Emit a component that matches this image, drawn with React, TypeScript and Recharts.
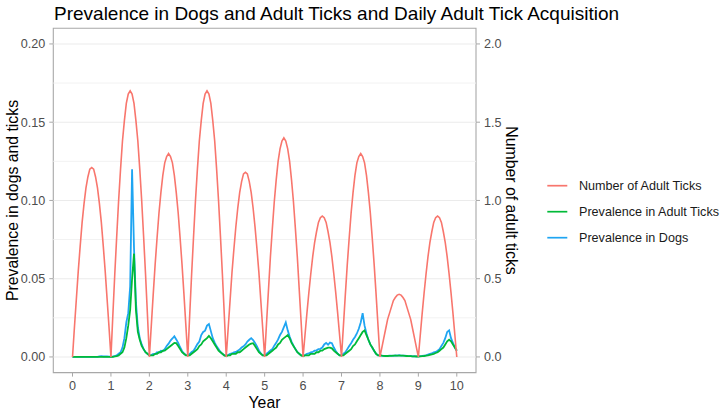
import React from 'react';
import { LineChart, Line, XAxis, YAxis, ReferenceLine, ReferenceArea } from 'recharts';

const FONT = '"Liberation Sans", Arial, Helvetica, sans-serif';

const yearTicks = [0, 1, 2, 3, 4, 5, 6, 7, 8, 9, 10];
const prevalenceAxisTicks = [0, 0.05, 0.1, 0.15, 0.2];
const prevalenceMinor = [0.025, 0.075, 0.125, 0.175];
const adultTickAxisTicks = [0, 0.5, 1, 1.5, 2];

// Number of adult ticks (right axis), read every 0.05 year
const numberAdultTicks = [
  0, 0.19, 0.37, 0.55, 0.71, 0.86, 0.98, 1.08, 1.15, 1.2, 1.21, 1.2, 1.15, 1.08, 0.98, 0.86, 0.71, 0.55, 0.37, 0.19,
  0, 0.27, 0.53, 0.77, 1.0, 1.2, 1.38, 1.51, 1.62, 1.68, 1.7, 1.68, 1.62, 1.51, 1.38, 1.2, 1.0, 0.77, 0.53, 0.27,
  0, 0.2, 0.4, 0.59, 0.76, 0.92, 1.05, 1.16, 1.24, 1.28, 1.3, 1.28, 1.24, 1.16, 1.05, 0.92, 0.76, 0.59, 0.4, 0.2,
  0, 0.27, 0.53, 0.77, 1.0, 1.2, 1.38, 1.51, 1.62, 1.68, 1.7, 1.68, 1.62, 1.51, 1.38, 1.2, 1.0, 0.77, 0.53, 0.27,
  0, 0.18, 0.36, 0.54, 0.69, 0.83, 0.95, 1.05, 1.12, 1.17, 1.18, 1.17, 1.12, 1.05, 0.95, 0.83, 0.69, 0.54, 0.36, 0.18,
  0, 0.22, 0.43, 0.64, 0.82, 0.99, 1.13, 1.25, 1.33, 1.38, 1.4, 1.38, 1.33, 1.25, 1.13, 0.99, 0.82, 0.64, 0.43, 0.22,
  0, 0.14, 0.28, 0.41, 0.53, 0.64, 0.73, 0.8, 0.86, 0.89, 0.9, 0.89, 0.86, 0.8, 0.73, 0.64, 0.53, 0.41, 0.28, 0.14,
  0, 0.2, 0.4, 0.59, 0.76, 0.92, 1.05, 1.16, 1.24, 1.28, 1.3, 1.28, 1.24, 1.16, 1.05, 0.92, 0.76, 0.59, 0.4, 0.2,
  0, 0.06, 0.12, 0.18, 0.24, 0.28, 0.32, 0.36, 0.38, 0.395, 0.4, 0.395, 0.38, 0.36, 0.32, 0.28, 0.24, 0.18, 0.12, 0.06,
  0, 0.14, 0.28, 0.41, 0.53, 0.64, 0.73, 0.8, 0.86, 0.89, 0.9, 0.89, 0.86, 0.8, 0.73, 0.64, 0.53, 0.41, 0.28, 0.14,
  0,
];

// Prevalence in dogs, read every 0.05 year
const prevalenceDogs = [
  0, 0, 0, 0, 0, 0, 0, 0, 0, 0, 0, 0, 0, 0, 0.0003, 0.0005, 0.0003, 0.0004, 0.0003, 0.0002,
  0.0002, 0.0003, 0.0005, 0.001, 0.002, 0.003, 0.006, 0.012, 0.022, 0.028, 0.045, 0.12, 0.07, 0.035, 0.019, 0.012, 0.008, 0.005, 0.003, 0.002,
  0.001, 0.0012, 0.002, 0.0018, 0.003, 0.0028, 0.004, 0.0037, 0.005, 0.007, 0.0085, 0.0105, 0.0118, 0.0132, 0.0112, 0.009, 0.0062, 0.0038, 0.0022, 0.0012,
  0.001, 0.002, 0.0032, 0.004, 0.006, 0.0082, 0.0098, 0.014, 0.016, 0.0168, 0.02, 0.021, 0.0165, 0.012, 0.0092, 0.0068, 0.005, 0.0032, 0.002, 0.001,
  0.001, 0.0012, 0.002, 0.0022, 0.003, 0.0032, 0.004, 0.0048, 0.006, 0.0068, 0.008, 0.0098, 0.011, 0.012, 0.0108, 0.009, 0.0068, 0.0042, 0.0022, 0.001,
  0.001, 0.002, 0.003, 0.0042, 0.005, 0.0072, 0.009, 0.0112, 0.014, 0.016, 0.019, 0.022, 0.017, 0.013, 0.0098, 0.0072, 0.005, 0.0032, 0.002, 0.001,
  0.001, 0.0012, 0.002, 0.0022, 0.003, 0.0032, 0.004, 0.0042, 0.005, 0.0052, 0.006, 0.008, 0.009, 0.0078, 0.0092, 0.0088, 0.006, 0.0038, 0.002, 0.001,
  0.001, 0.002, 0.003, 0.005, 0.007, 0.0088, 0.011, 0.0128, 0.015, 0.018, 0.022, 0.028, 0.02, 0.015, 0.011, 0.008, 0.006, 0.0038, 0.002, 0.001,
  0.001, 0.0008, 0.0006, 0.0007, 0.0006, 0.0008, 0.0009, 0.0007, 0.001, 0.0009, 0.0011, 0.0009, 0.0008, 0.0008, 0.0006, 0.0005, 0.0006, 0.0004, 0.0005, 0.0004,
  0.0004, 0.0005, 0.0006, 0.0008, 0.001, 0.0015, 0.002, 0.0022, 0.003, 0.0032, 0.004, 0.005, 0.007, 0.009, 0.012, 0.016, 0.017, 0.012, 0.009, 0.006,
  0.004,
];

// Prevalence in adult ticks, read every 0.05 year
const prevalenceTicks = [
  0, 0, 0, 0, 0, 0, 0, 0, 0, 0, 0, 0, 0, 0, 0, 0, 0, 0, 0, 0,
  0, 0, 0.0003, 0.0005, 0.001, 0.002, 0.003, 0.006, 0.012, 0.02, 0.03, 0.05, 0.066, 0.03, 0.016, 0.011, 0.007, 0.005, 0.003, 0.002,
  0.001, 0.001, 0.001, 0.002, 0.002, 0.003, 0.003, 0.004, 0.004, 0.005, 0.006, 0.007, 0.008, 0.009, 0.0088, 0.007, 0.005, 0.003, 0.002, 0.001,
  0.001, 0.001, 0.002, 0.003, 0.004, 0.005, 0.007, 0.008, 0.01, 0.011, 0.012, 0.0135, 0.012, 0.01, 0.008, 0.006, 0.004, 0.003, 0.002, 0.001,
  0.0005, 0.001, 0.001, 0.002, 0.002, 0.002, 0.003, 0.003, 0.004, 0.005, 0.006, 0.007, 0.008, 0.0085, 0.0088, 0.007, 0.005, 0.003, 0.002, 0.001,
  0.001, 0.001, 0.002, 0.003, 0.004, 0.005, 0.006, 0.008, 0.009, 0.011, 0.012, 0.013, 0.014, 0.012, 0.009, 0.007, 0.005, 0.003, 0.002, 0.001,
  0.0005, 0.001, 0.001, 0.001, 0.002, 0.002, 0.002, 0.003, 0.003, 0.004, 0.004, 0.005, 0.0055, 0.006, 0.006, 0.0055, 0.004, 0.003, 0.002, 0.001,
  0.001, 0.001, 0.002, 0.003, 0.004, 0.005, 0.007, 0.008, 0.01, 0.012, 0.014, 0.016, 0.017, 0.014, 0.011, 0.008, 0.006, 0.004, 0.002, 0.001,
  0.001, 0.0008, 0.0007, 0.0006, 0.0006, 0.0007, 0.0007, 0.0008, 0.0008, 0.0009, 0.0009, 0.0008, 0.0008, 0.0007, 0.0006, 0.0005, 0.0005, 0.0004, 0.0004, 0.0003,
  0.0003, 0.0004, 0.0005, 0.0006, 0.0008, 0.001, 0.0013, 0.0016, 0.002, 0.0025, 0.003, 0.004, 0.005, 0.006, 0.008, 0.01, 0.011, 0.01, 0.008, 0.006,
  0.004,
];

const seriesLabels = ['Number of Adult Ticks', 'Prevalence in Adult Ticks', 'Prevalence in Dogs'];
const seriesColors = ['#F8766D', '#00BA38', '#1FA5F2'];

const adultTickData = numberAdultTicks.map((v, i) => ({ year: i / 20, value: v }));
const ticksPrevData = prevalenceTicks.map((v, i) => ({ year: i / 20, value: v }));
const dogsPrevData = prevalenceDogs.map((v, i) => ({ year: i / 20, value: v }));

const tickStyle = { fontSize: 12.6, fill: '#4D4D4D', fontFamily: FONT };
const BORDER = '#A8A8A8';

export default function App() {
  return (
    <div style={{ position: 'absolute', left: 0, top: 0, width: 724, height: 410, background: '#fff' }}>
      <LineChart
        width={724}
        height={410}
        margin={{ top: 28.3, right: 208, bottom: 0, left: 0 }}
      >
        <XAxis
          dataKey="year"
          type="number"
          domain={[-0.5, 10.5]}
          ticks={yearTicks}
          allowDataOverflow
          height={37.4}
          axisLine={false}
          tickLine={{ stroke: BORDER }}
          tickSize={4}
          tickMargin={4}
          tick={tickStyle}
        />
        <YAxis
          yAxisId="left"
          type="number"
          domain={[-0.01, 0.21]}
          ticks={prevalenceAxisTicks}
          allowDataOverflow
          width={53.3}
          axisLine={false}
          tickLine={{ stroke: BORDER }}
          tickSize={4}
          tickMargin={4}
          tick={tickStyle}
          tickFormatter={(v: number) => v.toFixed(2)}
        />
        <YAxis
          yAxisId="right"
          orientation="right"
          type="number"
          domain={[-0.1, 2.1]}
          ticks={adultTickAxisTicks}
          allowDataOverflow
          width={40}
          axisLine={false}
          tickLine={{ stroke: BORDER }}
          tickSize={4}
          tickMargin={4}
          tick={tickStyle}
          tickFormatter={(v: number) => v.toFixed(1)}
        />
        {prevalenceMinor.map((v) => (
          <ReferenceLine key={`m${v}`} yAxisId="left" y={v} stroke="#F2F2F2" strokeWidth={1} />
        ))}
        {prevalenceAxisTicks.map((v) => (
          <ReferenceLine key={`M${v}`} yAxisId="left" y={v} stroke="#EBEBEB" strokeWidth={1.1} />
        ))}
        <ReferenceArea
          yAxisId="left"
          x1={-0.5}
          x2={10.5}
          y1={-0.01}
          y2={0.21}
          fill="none"
          stroke={BORDER}
          strokeWidth={1.1}
        />
        <Line
          yAxisId="left"
          data={dogsPrevData}
          dataKey="value"
          type="linear"
          stroke={seriesColors[2]}
          strokeWidth={1.8}
          dot={false}
          isAnimationActive={false}
        />
        <Line
          yAxisId="left"
          data={ticksPrevData}
          dataKey="value"
          type="linear"
          stroke={seriesColors[1]}
          strokeWidth={1.8}
          dot={false}
          isAnimationActive={false}
        />
        <Line
          yAxisId="right"
          data={adultTickData}
          dataKey="value"
          type="linear"
          stroke={seriesColors[0]}
          strokeWidth={1.6}
          dot={false}
          isAnimationActive={false}
        />
      </LineChart>
      <svg
        width={724}
        height={410}
        style={{ position: 'absolute', left: 0, top: 0, pointerEvents: 'none' }}
        fontFamily={FONT}
      >
        <text x={54} y={19.5} fontSize={19} fill="#000">
          Prevalence in Dogs and Adult Ticks and Daily Adult Tick Acquisition
        </text>
        <text x={264.5} y={408} fontSize={15.8} fill="#000" textAnchor="middle">
          Year
        </text>
        <text
          x={18}
          y={200.5}
          fontSize={15.8}
          fill="#000"
          textAnchor="middle"
          transform="rotate(-90 18 200.5)"
        >
          Prevalence in dogs and ticks
        </text>
        <text
          x={506}
          y={200.5}
          fontSize={15.8}
          fill="#000"
          textAnchor="middle"
          transform="rotate(90 506 200.5)"
        >
          Number of adult ticks
        </text>
        {seriesLabels.map((label, i) => {
          const cy = 185.7 + i * 26;
          return (
            <g key={label}>
              <line x1={547.3} x2={567.3} y1={cy} y2={cy} stroke={seriesColors[i]} strokeWidth={1.7} />
              <text x={579} y={cy + 4.4} fontSize={12.6} fill="#1A1A1A">
                {label}
              </text>
            </g>
          );
        })}
      </svg>
    </div>
  );
}
